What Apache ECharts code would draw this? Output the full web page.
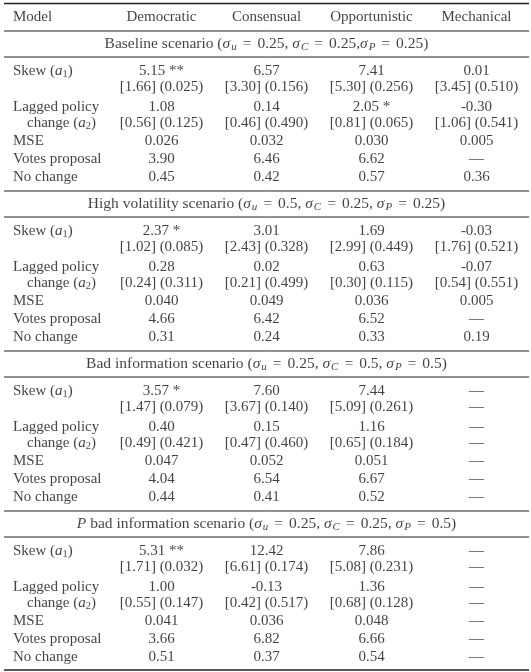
<!DOCTYPE html>
<html><head><meta charset="utf-8">
<script src="https://cdn.jsdelivr.net/npm/echarts@6/dist/echarts.min.js"></script>
<style>html,body{margin:0;padding:0;background:#fff}#c{width:531px;height:672px}</style>
</head><body><div id="c"></div>
<script>
// ---- Data ----
const headerModel = 'Model';
const columns = ['Democratic', 'Consensual', 'Opportunistic', 'Mechanical'];
const rowLabels = ['Skew ({i|a}{s|1})', '', 'Lagged policy', 'change ({i|a}{s|2})', 'MSE', 'Votes proposal', 'No change'];
const rowIndent = [false, false, false, true, false, false, false];

const scenarioNames = ['Baseline scenario', 'High volatility scenario', 'Bad information scenario', '{ti|P} bad information scenario'];
const sigmaU = [0.25, 0.5, 0.25, 0.25];
const sigmaC = [0.25, 0.25, 0.5, 0.25];
const sigmaP = [0.25, 0.25, 0.5, 0.5];
const pSeparator = ['', ' ', ' ', ' '];

// Baseline
const baseSkew = [5.15, 6.57, 7.41, 0.01];
const baseSkewStars = ['**', '', '', ''];
const baseSkewSE = [1.66, 3.30, 5.30, 3.45];
const baseSkewP = [0.025, 0.156, 0.256, 0.510];
const baseLag = [1.08, 0.14, 2.05, -0.30];
const baseLagStars = ['', '', '*', ''];
const baseLagSE = [0.56, 0.46, 0.81, 1.06];
const baseLagP = [0.125, 0.490, 0.065, 0.541];
const baseMSE = [0.026, 0.032, 0.030, 0.005];
const baseVotes = [3.90, 6.46, 6.62, null];
const baseNoChange = [0.45, 0.42, 0.57, 0.36];

// High volatility
const hvSkew = [2.37, 3.01, 1.69, -0.03];
const hvSkewStars = ['*', '', '', ''];
const hvSkewSE = [1.02, 2.43, 2.99, 1.76];
const hvSkewP = [0.085, 0.328, 0.449, 0.521];
const hvLag = [0.28, 0.02, 0.63, -0.07];
const hvLagStars = ['', '', '', ''];
const hvLagSE = [0.24, 0.21, 0.30, 0.54];
const hvLagP = [0.311, 0.499, 0.115, 0.551];
const hvMSE = [0.040, 0.049, 0.036, 0.005];
const hvVotes = [4.66, 6.42, 6.52, null];
const hvNoChange = [0.31, 0.24, 0.33, 0.19];

// Bad information
const biSkew = [3.57, 7.60, 7.44, null];
const biSkewStars = ['*', '', '', ''];
const biSkewSE = [1.47, 3.67, 5.09, null];
const biSkewP = [0.079, 0.140, 0.261, null];
const biLag = [0.40, 0.15, 1.16, null];
const biLagStars = ['', '', '', ''];
const biLagSE = [0.49, 0.47, 0.65, null];
const biLagP = [0.421, 0.460, 0.184, null];
const biMSE = [0.047, 0.052, 0.051, null];
const biVotes = [4.04, 6.54, 6.67, null];
const biNoChange = [0.44, 0.41, 0.52, null];

// P bad information
const pbSkew = [5.31, 12.42, 7.86, null];
const pbSkewStars = ['**', '', '', ''];
const pbSkewSE = [1.71, 6.61, 5.08, null];
const pbSkewP = [0.032, 0.174, 0.231, null];
const pbLag = [1.00, -0.13, 1.36, null];
const pbLagStars = ['', '', '', ''];
const pbLagSE = [0.55, 0.42, 0.68, null];
const pbLagP = [0.147, 0.517, 0.128, null];
const pbMSE = [0.041, 0.036, 0.048, null];
const pbVotes = [3.66, 6.82, 6.66, null];
const pbNoChange = [0.51, 0.37, 0.54, null];

// ---- Formatting ----
const DASH = '\u2014';
const fmtCoef = (v, st) => v == null ? DASH : v.toFixed(2) + (st ? ' ' + st : '');
const fmtCI = (se, p) => se == null ? DASH : '[' + se.toFixed(2) + '] (' + p.toFixed(3) + ')';
const fmt = (v, d) => v == null ? DASH : v.toFixed(d);

function scenarioRows(skew, skSt, skSE, skP, lag, lgSt, lgSE, lgP, mse, votes, nc) {
  return [
    skew.map((v, i) => fmtCoef(v, skSt[i])),
    skSE.map((v, i) => fmtCI(v, skP[i])),
    lag.map((v, i) => fmtCoef(v, lgSt[i])),
    lgSE.map((v, i) => fmtCI(v, lgP[i])),
    mse.map(v => fmt(v, 3)),
    votes.map(v => fmt(v, 2)),
    nc.map(v => fmt(v, 2))
  ];
}
const scenarios = [
  scenarioRows(baseSkew, baseSkewStars, baseSkewSE, baseSkewP, baseLag, baseLagStars, baseLagSE, baseLagP, baseMSE, baseVotes, baseNoChange),
  scenarioRows(hvSkew, hvSkewStars, hvSkewSE, hvSkewP, hvLag, hvLagStars, hvLagSE, hvLagP, hvMSE, hvVotes, hvNoChange),
  scenarioRows(biSkew, biSkewStars, biSkewSE, biSkewP, biLag, biLagStars, biLagSE, biLagP, biMSE, biVotes, biNoChange),
  scenarioRows(pbSkew, pbSkewStars, pbSkewSE, pbSkewP, pbLag, pbLagStars, pbLagSE, pbLagP, pbMSE, pbVotes, pbNoChange)
];

// ---- Layout (axis units) ----
const L = {
  topRule: 3.5, header: 17, sectionStart: 31, sectionPitch: 160,
  titleOff: 12.5, ruleOff: 26, rowStart: 40, rowOffsets: [0, 16, 36, 52, 70, 88, 106],
  bottomRule: 670
};
const colX = i => i + 1.5;
const FS = 15;
const TFS = 15.5;
const FONT = 'Liberation Serif';
const COLOR = '#111111';

const centerCells = [];
const leftCells = [];
const titleCells = [];
const rules = [];

rules.push({ y: L.topRule, w: 1.6 });
rules.push({ y: L.bottomRule, w: 1.6 });
leftCells.push({ value: [0, L.header], text: headerModel, indent: false });
columns.forEach((c, i) => centerCells.push({ value: [colX(i), L.header], text: c }));

scenarios.forEach((rows, s) => {
  const base = L.sectionStart + L.sectionPitch * s;
  rules.push({ y: base, w: 1 });
  rules.push({ y: base + L.ruleOff, w: 1 });
  const title = scenarioNames[s] + ' ({ti|\u03c3}{tsi|u}{eq|=}' + sigmaU[s] + ', {ti|\u03c3}{tsi|C}{eq|=}' + sigmaC[s] + ',' + pSeparator[s] + '{ti|\u03c3}{tsi|P}{eq|=}' + sigmaP[s] + ')';
  titleCells.push({ value: [2.5, base + L.titleOff], text: title });
  rows.forEach((vals, r) => {
    const y = base + L.rowStart + L.rowOffsets[r];
    if (rowLabels[r]) leftCells.push({ value: [0, y], text: rowLabels[r], indent: rowIndent[r] });
    vals.forEach((t, c) => centerCells.push({ value: [colX(c), y], text: t }));
  });
});

const rich = {
  i: { fontStyle: 'italic', fontFamily: FONT, fontSize: FS, color: COLOR },
  s: { fontFamily: FONT, fontSize: 10.5, color: COLOR, padding: [7, 0, 0, 0] },
  ti: { fontStyle: 'italic', fontFamily: FONT, fontSize: TFS, color: COLOR },
  tsi: { fontStyle: 'italic', fontFamily: FONT, fontSize: 11, color: COLOR, padding: [7, 0, 0, 1] },
  eq: { fontFamily: FONT, fontSize: TFS, color: COLOR, padding: [0, 6, 0, 6] }
};
const baseLabel = { show: true, fontFamily: FONT, fontSize: FS, color: COLOR, rich: rich, formatter: p => p.data.text };

const series = [];
series.push({
  type: 'scatter', symbolSize: 0, silent: true, data: centerCells,
  label: Object.assign({}, baseLabel, { position: 'inside', align: 'center', verticalAlign: 'middle' })
});
series.push({
  type: 'scatter', symbolSize: 0, silent: true, data: titleCells,
  label: Object.assign({}, baseLabel, { fontSize: TFS, position: 'inside', align: 'center', verticalAlign: 'middle' })
});
series.push({
  type: 'scatter', symbolSize: 0, silent: true,
  data: leftCells.filter(d => !d.indent),
  label: Object.assign({}, baseLabel, { position: 'right', distance: 9 })
});
series.push({
  type: 'scatter', symbolSize: 0, silent: true,
  data: leftCells.filter(d => d.indent),
  label: Object.assign({}, baseLabel, { position: 'right', distance: 23 })
});
rules.forEach(r => series.push({
  type: 'line', symbol: 'none', silent: true,
  data: [[0, r.y], [5, r.y]],
  lineStyle: { color: '#222222', width: r.w }
}));

const chart = echarts.init(document.getElementById('c'), null, { renderer: 'canvas' });
chart.setOption({
  animation: false,
  backgroundColor: '#ffffff',
  grid: { left: 4, right: 2, top: 0, bottom: 0 },
  xAxis: { type: 'value', min: 0, max: 5, show: false },
  yAxis: { type: 'value', min: 0, max: 672, inverse: true, show: false },
  series: series
});
</script></body></html>
